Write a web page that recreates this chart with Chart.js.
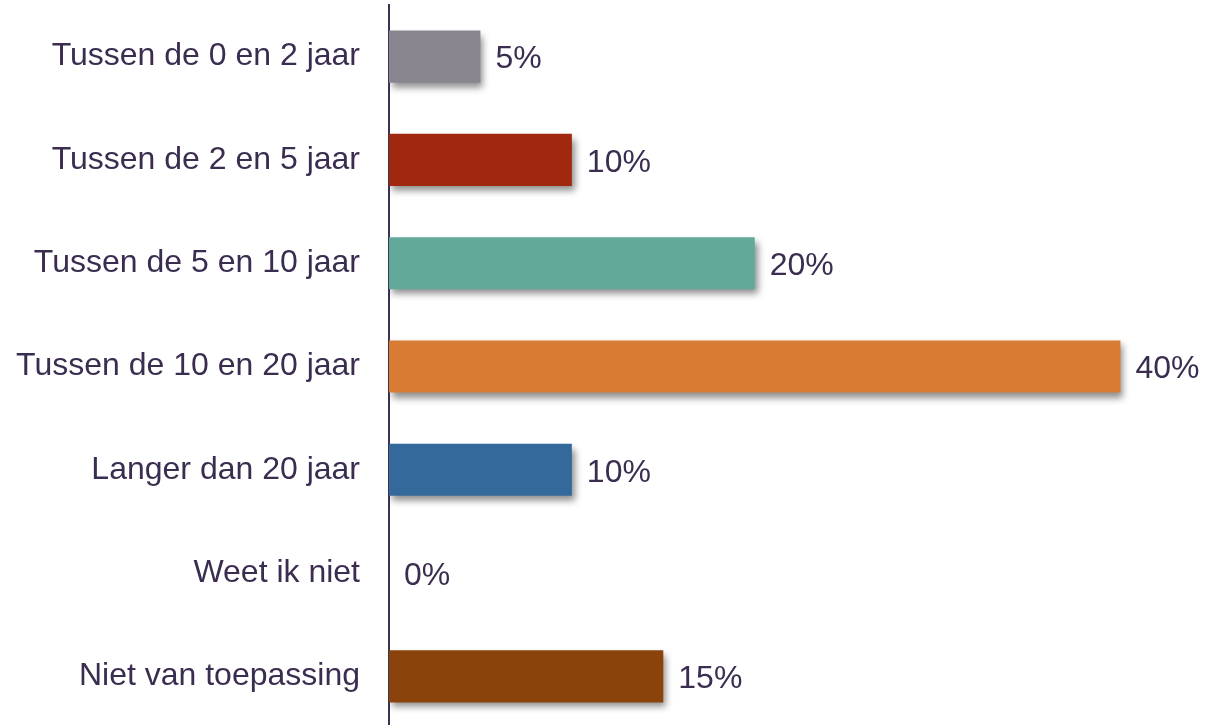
<!DOCTYPE html>
<html>
<head>
<meta charset="utf-8">
<script src="https://cdn.jsdelivr.net/npm/chart.js@4"></script>
<style>
  html, body { margin: 0; padding: 0; background: #fff; overflow: hidden; }
  #wrap { width: 1207px; height: 730px; position: relative; }
</style>
</head>
<body>
<div id="wrap"><canvas id="chart"></canvas></div>
<script>
const categories = [
    'Tussen de 0 en 2 jaar',
    'Tussen de 2 en 5 jaar',
    'Tussen de 5 en 10 jaar',
    'Tussen de 10 en 20 jaar',
    'Langer dan 20 jaar',
    'Weet ik niet',
    'Niet van toepassing'
];
const percentages = [5, 10, 20, 40, 10, 0, 15];
const barColors = ['#89858f', '#a0280e', '#62a999', '#d87c33', '#346a9b', '#8a8a8a', '#8a430b'];

const TEXT_COLOR = '#3b2d50';
const FONT = { family: '"Liberation Sans", Arial, sans-serif', size: 32 };

// soft drop shadow under the bars
const barShadow = {
    id: 'barShadow',
    beforeDatasetsDraw(chart) {
        const ctx = chart.ctx;
        ctx.save();
        ctx.shadowColor = 'rgba(0, 0, 0, 0.45)';
        ctx.shadowBlur = 7;
        ctx.shadowOffsetX = 3;
        ctx.shadowOffsetY = 5;
    },
    afterDatasetsDraw(chart) {
        chart.ctx.restore();
    }
};

// percentage text at the end of each bar
const valueLabels = {
    id: 'valueLabels',
    afterDatasetsDraw(chart) {
        const ctx = chart.ctx;
        const meta = chart.getDatasetMeta(0);
        ctx.save();
        ctx.font = FONT.size + 'px ' + FONT.family;
        ctx.fillStyle = TEXT_COLOR;
        ctx.textAlign = 'left';
        ctx.textBaseline = 'middle';
        meta.data.forEach((bar, i) => {
            ctx.fillText(percentages[i] + '%', bar.x + 15, bar.y + 3);
        });
        ctx.restore();
    }
};

new Chart(document.getElementById('chart'), {
    type: 'bar',
    data: {
        labels: categories,
        datasets: [{
            data: percentages,
            backgroundColor: barColors,
            borderWidth: 0,
            barPercentage: 0.505,
            categoryPercentage: 1
        }]
    },
    options: {
        indexAxis: 'y',
        responsive: true,
        maintainAspectRatio: false,
        animation: false,
        layout: { padding: { top: 5, bottom: 2, right: 7, left: 0 } },
        plugins: {
            legend: { display: false },
            tooltip: { enabled: false }
        },
        scales: {
            x: {
                min: 0,
                max: 44.35,
                display: false
            },
            y: {
                afterFit(scale) {
                    scale.width = 389;
                    scale.paddingTop = 0;
                    scale.paddingBottom = 0;
                },
                grid: { display: false, drawTicks: false },
                border: { display: true, color: '#3f3151', width: 2 },
                ticks: {
                    color: TEXT_COLOR,
                    font: FONT,
                    padding: 29
                }
            }
        }
    },
    plugins: [barShadow, valueLabels]
});
</script>
</body>
</html>
